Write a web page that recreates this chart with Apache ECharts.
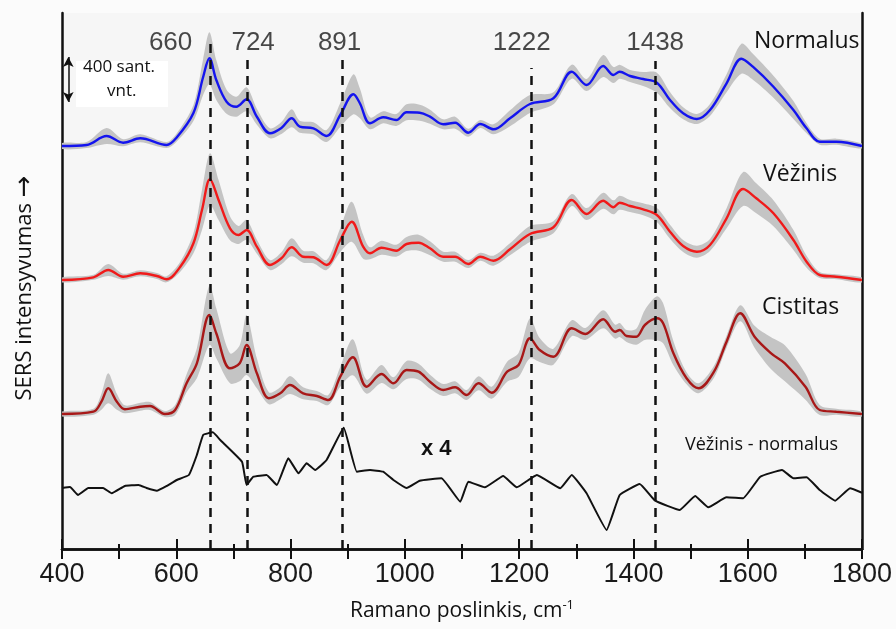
<!DOCTYPE html>
<html><head><meta charset="utf-8">
<script src="https://cdn.jsdelivr.net/npm/echarts@6/dist/echarts.min.js"></script>
<style>html,body{margin:0;padding:0;background:#fbfbfb;}#c{width:896px;height:629px;}</style>
</head><body><div id="c"></div>
<script>
// [wavenumber cm-1, intensity above own baseline, std]
const normalus = [[400,0,30],[443,10,30],[478,100,80],[507,33,35],[537,77,40],[583,10,30],[600,80,40],[630,330,80],[647,690,180],[658,877,260],[670,660,200],[688,443,120],[705,393,100],[723,467,120],[741,293,80],[764,127,50],[784,180,60],[802,277,90],[816,193,60],[840,177,60],[863,100,60],[887,310,120],[910,517,200],[921,430,150],[939,227,60],[962,287,60],[985,260,60],[1003,337,80],[1026,333,80],[1044,293,70],[1067,217,50],[1088,233,60],[1111,133,40],[1132,220,40],[1155,167,50],[1184,277,80],[1219,420,90],[1260,477,60],[1292,743,70],[1318,610,60],[1347,800,110],[1365,710,80],[1376,743,70],[1394,700,60],[1417,670,70],[1441,633,100],[1464,460,80],[1487,327,60],[1511,270,50],[1534,360,60],[1563,627,90],[1589,873,150],[1609,793,130],[1645,593,110],[1680,360,90],[1703,177,50],[1726,43,30],[1755,43,30],[1800,0,25]];
const vezinis = [[400,0,25],[455,27,25],[481,100,60],[507,33,30],[537,67,30],[566,40,30],[583,7,30],[607,133,50],[630,367,100],[645,700,200],[659,1007,260],[674,800,200],[694,517,120],[709,450,90],[723,500,100],[741,333,70],[764,150,50],[784,217,60],[802,327,90],[822,233,60],[840,227,60],[863,150,50],[887,400,120],[907,583,200],[927,333,120],[939,267,60],[959,323,70],[985,293,60],[1003,360,70],[1024,373,80],[1044,317,70],[1067,233,50],[1088,233,50],[1111,160,40],[1132,233,40],[1155,193,50],[1184,307,60],[1219,460,80],[1260,527,60],[1292,800,60],[1318,660,60],[1347,793,80],[1365,727,70],[1376,773,70],[1394,740,60],[1417,707,60],[1441,650,70],[1464,483,70],[1487,340,60],[1511,283,60],[1534,350,60],[1563,617,100],[1592,910,170],[1615,817,150],[1645,667,130],[1680,400,100],[1703,183,60],[1726,50,30],[1755,33,25],[1800,0,25]];
const cistitas = [[400,0,25],[455,23,30],[469,123,80],[481,257,150],[496,123,80],[510,47,40],[537,73,40],[554,80,40],[580,0,30],[598,40,50],[618,307,90],[636,507,150],[658,990,300],[670,807,250],[694,457,150],[711,507,180],[723,690,300],[741,407,150],[762,157,60],[782,207,60],[799,290,90],[822,207,60],[846,180,50],[866,140,50],[887,373,100],[909,567,180],[933,273,70],[959,400,90],[980,307,60],[1003,440,90],[1024,423,80],[1044,323,70],[1067,240,60],[1088,267,60],[1108,190,50],[1129,307,70],[1152,213,60],[1179,423,100],[1199,490,120],[1219,757,200],[1236,640,120],[1260,573,80],[1292,857,80],[1316,800,60],[1347,947,90],[1368,823,70],[1376,840,70],[1388,780,60],[1405,773,80],[1420,890,150],[1441,957,220],[1452,907,200],[1470,607,120],[1493,357,60],[1514,257,50],[1541,423,60],[1563,723,60],[1587,1007,80],[1612,773,110],[1641,607,160],[1665,507,180],[1701,273,130],[1726,40,50],[1755,23,30],[1800,0,25]];
// difference (Vėžinis - normalus) x4
const skirtumas = [[400,0],[414,10],[428,-70],[446,0],[472,0],[487,-53],[510,20],[534,30],[548,0],[566,-27],[583,20],[601,80],[622,130],[636,330],[647,530],[664,557],[677,480],[715,263],[723,30],[735,113],[758,130],[776,30],[796,297],[814,147],[828,247],[843,180],[863,280],[893,603],[916,163],[939,180],[962,163],[980,80],[1003,0],[1026,73],[1064,97],[1097,-137],[1111,63],[1140,7],[1172,120],[1196,7],[1231,130],[1272,-3],[1292,130],[1318,-53],[1353,-420],[1376,-70],[1411,40],[1438,-127],[1481,-220],[1508,-80],[1531,-193],[1563,-93],[1592,-103],[1622,113],[1660,180],[1680,97],[1703,107],[1726,-20],[1753,-127],[1779,-3],[1800,-47]];
// vertical offsets of the stacked spectra
const offNormalus = 4030, offVezinis = 2690, offCistitas = 1350, offSkirtumas = 610;
// marked peaks
const peaks = [660, 724, 891, 1222, 1438];
const peakTops = [5050, 4920, 4940, 4810, 4880];
const peakLabelY = 5060;
const xTicks = [400, 600, 800, 1000, 1200, 1400, 1600, 1800];

const chart = echarts.init(document.getElementById('c'));
const FONT = 'Open Sans';
const peakShift = {660: -40, 724: 6, 891: -3, 1222: -10, 1438: 0};

function band(arr, off) {
  return {
    type: 'custom', coordinateSystem: 'cartesian2d', silent: true, z: 1, clip: true,
    data: [[arr[0][0], off]], encode: {x: 0, y: 1},
    renderItem: function (params, api) {
      const up = arr.map(p => api.coord([p[0], off + p[1] + p[2]]));
      const lo = arr.slice().reverse().map(p => api.coord([p[0], off + p[1] - p[2]]));
      return {type: 'polygon', shape: {points: up.concat(lo), smooth: 0.3}, style: {fill: '#c4c4c4'}};
    }
  };
}
function line(arr, off, color, smooth) {
  return {
    type: 'line', symbol: 'none', smooth: smooth, z: 3, silent: true,
    data: arr.map(p => [p[0], off + p[1]]),
    lineStyle: {color: color, width: 2.4}
  };
}

const sNorm = line(normalus, offNormalus, '#1414ee', 0.35);
sNorm.markLine = {
  silent: true, symbol: ['arrow', 'arrow'], symbolSize: [8, 10], z: 6,
  lineStyle: {color: '#111', width: 1.5, type: 'solid'}, label: {show: false},
  data: [[{coord: [411, 4470]}, {coord: [411, 4920]}]]
};
const sDiff = line(skirtumas, offSkirtumas, '#111', 0.1);
sDiff.lineStyle.width = 2;
sDiff.markLine = {
  silent: true, symbol: ['none', 'none'], z: 5,
  lineStyle: {color: '#111', width: 2.5, type: [9, 7]}, label: {show: false},
  data: peaks.map((p, i) => [{coord: [p, 0]}, {coord: [p, peakTops[i]]}])
};

const option = {
  backgroundColor: '#fbfbfb',
  animation: false,
  grid: {left: 62, right: 34, top: 13, bottom: 80, show: true, backgroundColor: '#f6f6f6', borderWidth: 0,
    containLabel: false, outerBoundsMode: 'none'},
  xAxis: [{
    type: 'value', min: 400, max: 1800, interval: 200, position: 'bottom',
    axisLine: {lineStyle: {color: '#111', width: 2.5}},
    axisTick: {inside: true, length: 10, lineStyle: {color: '#111', width: 2}},
    minorTick: {show: true, splitNumber: 2, length: 5, lineStyle: {color: '#111', width: 2}},
    splitLine: {show: false},
    axisLabel: {fontSize: 27, color: '#1a1a1a', fontFamily: 'Liberation Sans', margin: 12,
      formatter: v => xTicks.includes(v) ? String(v) : ''},
    name: 'Ramano poslinkis, cm{sup|-1}', nameLocation: 'middle', nameGap: 50,
    nameTextStyle: {fontSize: 21, fontFamily: FONT, color: '#111',
      rich: {sup: {fontSize: 13, fontFamily: FONT, color: '#111', padding: [0, 0, 12, 0]}}}
  }, {
    type: 'value', min: 400, max: 1800, interval: 100, position: 'top',
    axisLine: {lineStyle: {color: '#111', width: 2.5}},
    axisTick: {inside: true, length: 10, lineStyle: {color: '#111', width: 2}},
    axisLabel: {show: false}, splitLine: {show: false}
  }],
  yAxis: [{
    type: 'value', min: 0, max: 5360, position: 'left',
    axisLine: {show: true, lineStyle: {color: '#111', width: 2.5}},
    axisTick: {show: false}, axisLabel: {show: false}, splitLine: {show: false},
    name: 'SERS intensyvumas {a|→}', nameLocation: 'middle', nameGap: 24, nameRotate: 90,
    nameTextStyle: {fontSize: 22, fontFamily: FONT, color: '#111', padding: [0, 14, 0, 0],
      rich: {a: {fontSize: 26, fontFamily: 'DejaVu Sans', color: '#111'}}}
  }, {
    type: 'value', min: 0, max: 5360, position: 'right',
    axisLine: {show: true, lineStyle: {color: '#111', width: 2.5}},
    axisTick: {show: false}, axisLabel: {show: false}, splitLine: {show: false}
  }],
  series: [
    band(normalus, offNormalus), band(vezinis, offVezinis), band(cistitas, offCistitas),
    sNorm,
    line(vezinis, offVezinis, '#f01a1a', 0.35),
    line(cistitas, offCistitas, '#a81818', 0.35),
    sDiff,
    {
      type: 'scatter', symbolSize: 0, silent: true, z: 10,
      data: peaks.map(p => ({value: [p, peakLabelY], label: {offset: [peakShift[p], 0]}})),
      label: {show: true, position: 'inside', formatter: p => String(p.value[0]),
        fontSize: 26, fontFamily: 'Liberation Sans', color: '#1a1a1a'}
    }
  ],
  graphic: [
    {type: 'rect', left: 76, top: 61, shape: {width: 92, height: 46}, style: {fill: '#ffffff'}, z: 0, silent: true},
    {type: 'text', left: 83, top: 59, style: {text: '400 sant.', font: '17px "Open Sans"', fill: '#111'}, z: 20},
    {type: 'text', left: 107, top: 83, style: {text: 'vnt.', font: '17px "Open Sans"', fill: '#111'}, z: 20},
    {type: 'text', left: 754, top: 30, style: {text: 'Normalus', font: '23px "Open Sans"', fill: '#111'}, z: 20},
    {type: 'text', left: 763, top: 163, style: {text: 'Vėžinis', font: '23px "Open Sans"', fill: '#111'}, z: 20},
    {type: 'text', left: 762, top: 296, style: {text: 'Cistitas', font: '23px "Open Sans"', fill: '#111'}, z: 20},
    {type: 'text', left: 685, top: 436, style: {text: 'Vėžinis - normalus', font: '18px "Open Sans"', fill: '#111'}, z: 20},
    {type: 'text', left: 421, top: 438, style: {text: 'x 4', font: 'bold 22px "Liberation Sans"', fill: '#111'}, z: 20}
  ]
};
chart.setOption(option);
</script>
</body></html>
